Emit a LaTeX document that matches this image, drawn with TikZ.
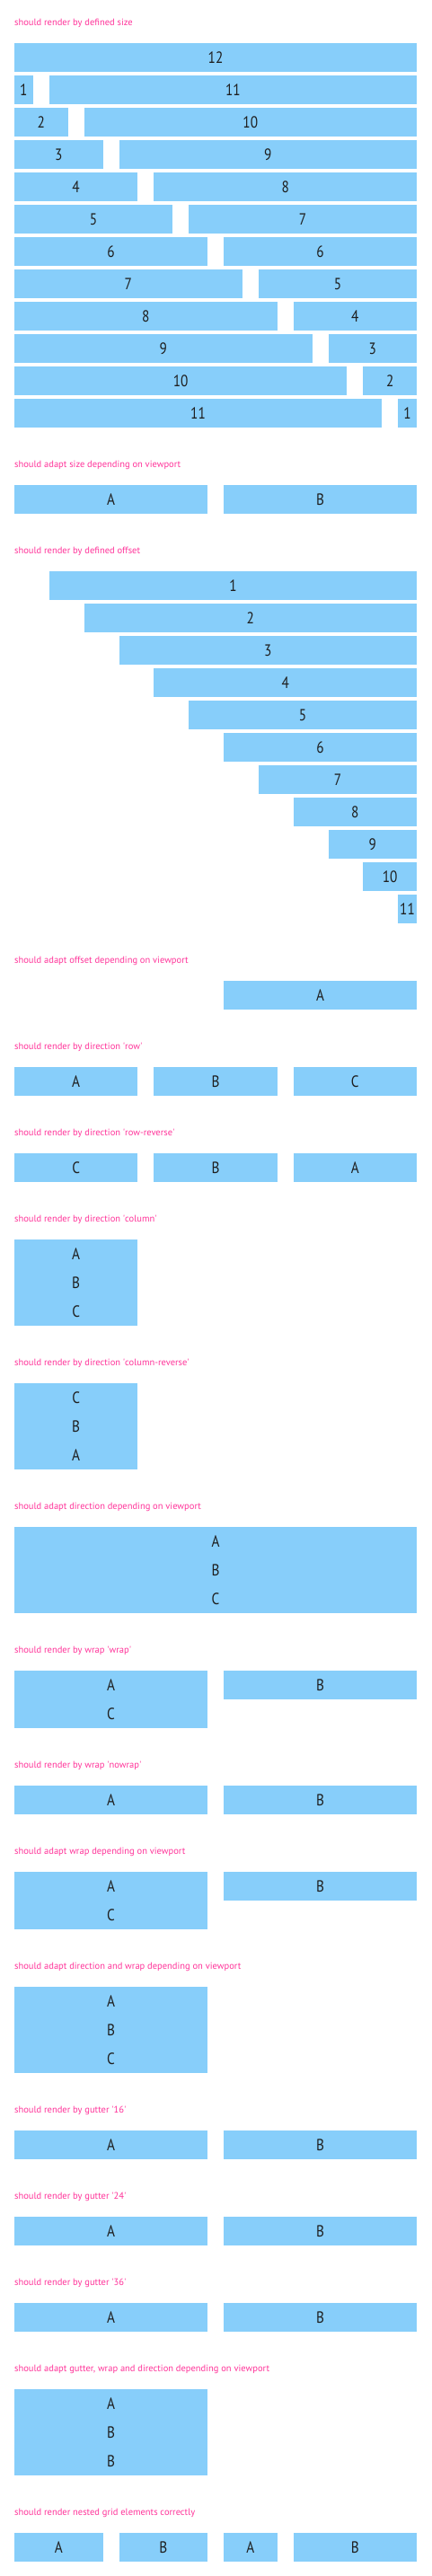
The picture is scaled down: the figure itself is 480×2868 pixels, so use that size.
\documentclass[tikz,border=0pt]{standalone}
\usepackage{fontspec}
\usepackage{tikz}
\usetikzlibrary{positioning}
\newfontfamily\cellfont[FakeStretch=0.85]{PT Sans}
\newfontfamily\titlefont{PT Sans}
\definecolor{gridblue}{HTML}{87CEFA}
\definecolor{titlepink}{HTML}{FF3399}
\definecolor{ink}{HTML}{1E1E1E}
\newcommand{\colw}{20.83333}
\newcommand{\gut}{18}
\newcommand{\spanw}[1]{(#1)*\colw+(#1-1)*\gut}
\newcommand{\colx}[1]{16+(#1)*(\colw+\gut)}
\newcommand{\quoted}[1]{\textquotesingle#1\textquotesingle}
\tikzset{
  cell/.style={fill=gridblue, inner sep=0pt, outer sep=0pt, anchor=north west,
    minimum height=32pt, font=\cellfont\fontsize{18}{20}\selectfont, text=ink},
  caption/.style={anchor=base west, inner sep=0pt, text=titlepink,
    font=\titlefont\fontsize{10.5}{12}\selectfont}
}

\begin{document}
\begin{tikzpicture}[x=1pt, y=-1pt]
		\useasboundingbox (0,0) rectangle (480,2868);
		
		% defined size
		\node[caption] (t-size) at (16,28) {should render by defined size};
		\node[cell, minimum width={\spanw{12}}] (size-r-0) at (16,48) {12};
		\foreach \k in {1,...,11} {
			\pgfmathtruncatemacro{\r}{12-\k}
			\node[cell, minimum width={\spanw{\k}}] (size-l-\k) at (16,48+36*\k) {\k};
			\node[cell, minimum width={\spanw{\r}}] (size-r-\k) at ({\colx{\k}},48+36*\k) {\r};
		}
		
		% size by viewport
		\node[caption] (t-vsize) at (16,520) {should adapt size depending on viewport};
		\node[cell, minimum width={\spanw{6}}] (vsize-a) at (16,540) {A};
		\node[cell, minimum width={\spanw{6}}] (vsize-b) at ({\colx{6}},540) {B};
		
		% defined offset
		\node[caption] (t-offset) at (16,616) {should render by defined offset};
		\foreach \k in {1,...,11} {
			\pgfmathtruncatemacro{\r}{12-\k}
			\node[cell, minimum width={\spanw{\r}}] (offset-\k) at ({\colx{\k}},600+36*\k) {\k};
		}
		
		% offset by viewport
		\node[caption] (t-voffset) at (16,1072) {should adapt offset depending on viewport};
		\node[cell, minimum width={\spanw{6}}] (voffset-a) at ({\colx{6}},1092) {A};
		
		% direction
		\node[caption] (t-row) at (16,1168) {should render by direction \quoted{row}};
		\node[cell, minimum width={\spanw{4}}] (row-a) at (16,1188) {A};
		\node[cell, minimum width={\spanw{4}}] (row-b) at ({\colx{4}},1188) {B};
		\node[cell, minimum width={\spanw{4}}] (row-c) at ({\colx{8}},1188) {C};
		
		\node[caption] (t-rrow) at (16,1264) {should render by direction \quoted{row-reverse}};
		\node[cell, minimum width={\spanw{4}}] (rrow-c) at (16,1284) {C};
		\node[cell, minimum width={\spanw{4}}] (rrow-b) at ({\colx{4}},1284) {B};
		\node[cell, minimum width={\spanw{4}}] (rrow-a) at ({\colx{8}},1284) {A};
		
		\node[caption] (t-col) at (16,1360) {should render by direction \quoted{column}};
		\node[cell, minimum width={\spanw{4}}] (col-a) at (16,1380) {A};
		\node[cell, minimum width={\spanw{4}}, below=0pt of col-a] (col-b) {B};
		\node[cell, minimum width={\spanw{4}}, below=0pt of col-b] (col-c) {C};
		
		\node[caption] (t-rcol) at (16,1520) {should render by direction \quoted{column-reverse}};
		\node[cell, minimum width={\spanw{4}}] (rcol-c) at (16,1540) {C};
		\node[cell, minimum width={\spanw{4}}, below=0pt of rcol-c] (rcol-b) {B};
		\node[cell, minimum width={\spanw{4}}, below=0pt of rcol-b] (rcol-a) {A};
		
		\node[caption] (t-vdir) at (16,1680) {should adapt direction depending on viewport};
		\node[cell, minimum width={\spanw{12}}] (vdir-a) at (16,1700) {A};
		\node[cell, minimum width={\spanw{12}}, below=0pt of vdir-a] (vdir-b) {B};
		\node[cell, minimum width={\spanw{12}}, below=0pt of vdir-b] (vdir-c) {C};
		
		% wrap
		\node[caption] (t-wrap) at (16,1840) {should render by wrap \quoted{wrap}};
		\node[cell, minimum width={\spanw{6}}] (wrap-a) at (16,1860) {A};
		\node[cell, minimum width={\spanw{6}}, right=\gut pt of wrap-a] (wrap-b) {B};
		\node[cell, minimum width={\spanw{6}}, below=0pt of wrap-a] (wrap-c) {C};
		
		\node[caption] (t-nowrap) at (16,1968) {should render by wrap \quoted{nowrap}};
		\node[cell, minimum width={\spanw{6}}] (nowrap-a) at (16,1988) {A};
		\node[cell, minimum width={\spanw{6}}, right=\gut pt of nowrap-a] (nowrap-b) {B};
		
		\node[caption] (t-vwrap) at (16,2064) {should adapt wrap depending on viewport};
		\node[cell, minimum width={\spanw{6}}] (vwrap-a) at (16,2084) {A};
		\node[cell, minimum width={\spanw{6}}, right=\gut pt of vwrap-a] (vwrap-b) {B};
		\node[cell, minimum width={\spanw{6}}, below=0pt of vwrap-a] (vwrap-c) {C};
		
		\node[caption] (t-vdw) at (16,2192) {should adapt direction and wrap depending on viewport};
		\node[cell, minimum width={\spanw{6}}] (vdw-a) at (16,2212) {A};
		\node[cell, minimum width={\spanw{6}}, below=0pt of vdw-a] (vdw-b) {B};
		\node[cell, minimum width={\spanw{6}}, below=0pt of vdw-b] (vdw-c) {C};
		
		% gutter
		\foreach \g/\y in {16/2372, 24/2468, 36/2564} {
			\node[caption] (t-gut-\g) at (16,\y-20) {should render by gutter \quoted{\g}};
			\node[cell, minimum width={\spanw{6}}] (gut-\g-a) at (16,\y) {A};
			\node[cell, minimum width={\spanw{6}}] (gut-\g-b) at ({\colx{6}},\y) {B};
		}
		
		\node[caption] (t-vgut) at (16,2640) {should adapt gutter, wrap and direction depending on viewport};
		\node[cell, minimum width={\spanw{6}}] (vgut-a) at (16,2660) {A};
		\node[cell, minimum width={\spanw{6}}, below=0pt of vgut-a] (vgut-b) {B};
		\node[cell, minimum width={\spanw{6}}, below=0pt of vgut-b] (vgut-bb) {B};
		
		% nested
		\node[caption] (t-nest) at (16,2800) {should render nested grid elements correctly};
		\node[cell, minimum width={\spanw{3}}] (nest-a) at (16,2820) {A};
		\node[cell, minimum width={\spanw{3}}] (nest-b) at ({\colx{3}},2820) {B};
		\node[cell, minimum width={\spanw{2}}] (nest-aa) at ({\colx{6}},2820) {A};
		\node[cell, minimum width={\spanw{4}}] (nest-bb) at ({\colx{8}},2820) {B};
	\end{tikzpicture}
\end{document}
